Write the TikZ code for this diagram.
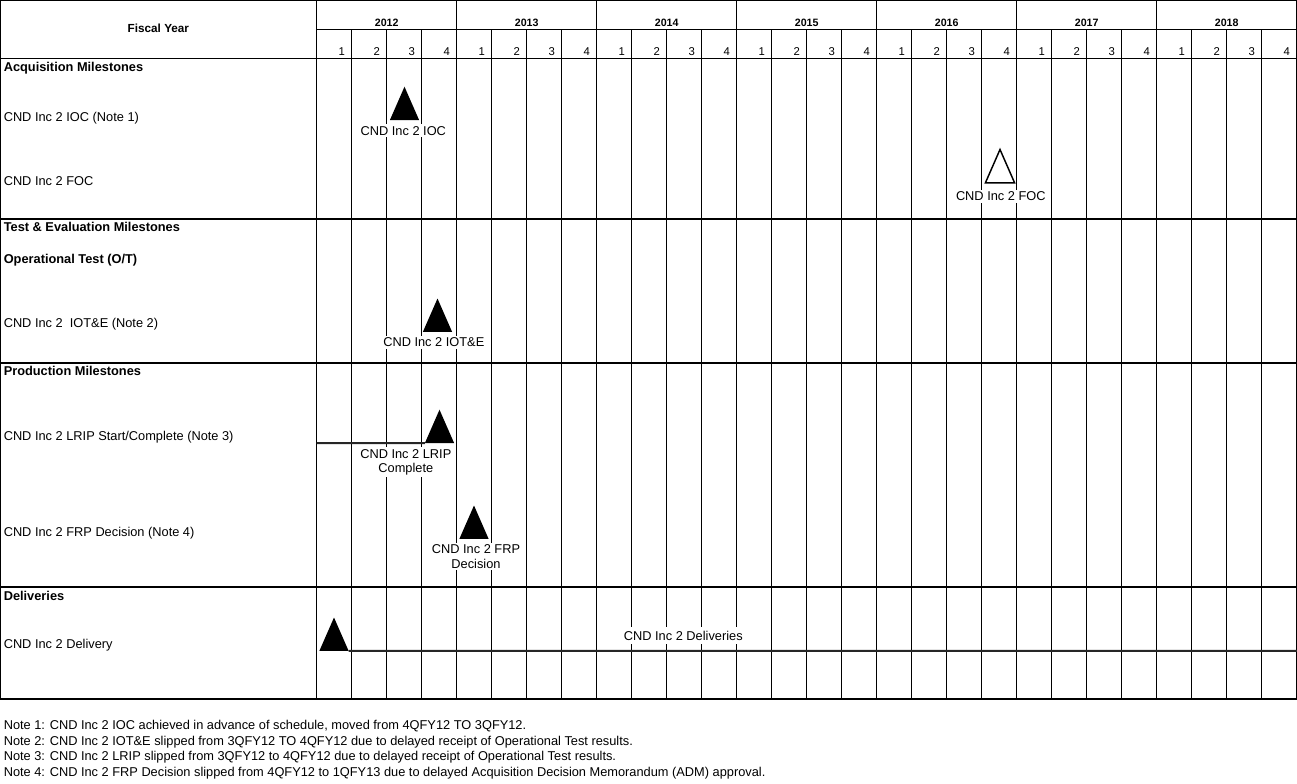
\documentclass[tikz,border=0pt]{standalone}
\usepackage{fontspec}
\setmainfont{Liberation Sans}
\usetikzlibrary{shapes.geometric}

\begin{document}
\begin{tikzpicture}[
  x=0.75pt,
  y=-0.75pt,
  every node/.style={font=\fontsize{9.6}{10.8}\selectfont, inner sep=0pt},
  rowlbl/.style={anchor=base west},
  sechead/.style={rowlbl, font=\bfseries\fontsize{9.6}{10.8}\selectfont},
  yearlbl/.style={anchor=base, font=\bfseries\fontsize{8}{9}\selectfont},
  qtrlbl/.style={anchor=base east, font=\fontsize{8.5}{9}\selectfont},
  done/.style={
    isosceles triangle,
    isosceles triangle stretches,
    rotate=90,
    minimum width=21.9pt,
    minimum height=25pt,
    outer sep=0pt,
    fill=black,
    anchor=apex
  },
  planned/.style={done, fill=white, draw=black, line width=1.1pt},
  mslabel/.style={fill=white, inner xsep=3pt, inner ysep=1.5pt, align=center, anchor=base},
  gridline/.style={line width=0.75pt},
  rule/.style={line width=1.5pt},
  bar/.style={line width=1.5pt, black!85}
]
\useasboundingbox (0,0) rectangle (1297,783);

% grid
\foreach \k in {0,...,6} {
  \draw[gridline] ({316.7+140*\k},0) -- ({316.7+140*\k},699);
  \foreach \j in {1,2,3}
    \draw[gridline] ({316.7+140*\k+35*\j},29) -- ({316.7+140*\k+35*\j},699);
}
\draw[gridline] (316.7,29) -- (1297,29);
\draw[gridline] (0,58.3) -- (1297,58.3);
\draw[gridline] (0.5,0.5) rectangle (1296.5,699);
\draw[rule] (0,218.5) -- (1297,218.5);
\draw[rule] (0,362.7) -- (1297,362.7);
\draw[rule] (0,586.7) -- (1297,586.7);
\draw[rule] (0,699) -- (1297,699);

% header
\node[font=\bfseries\fontsize{8.8}{10}\selectfont, anchor=base] (fy) at (158.4,32.7) {Fiscal Year};
\foreach \yr [count=\k from 0] in {2012,...,2018}
  \node[yearlbl] (yr\yr) at ({386.7+140*\k},26.7) {\yr};
\foreach \k in {0,...,6}
  \foreach \j in {1,...,4}
    \node[qtrlbl] (q\k\j) at ({316.7+140*\k+35*\j-6.5},55) {\j};

% row titles
\node[sechead] (acq) at (3.5,71.7) {Acquisition Milestones};
\node[rowlbl] (iocrow) at (3.5,121) {CND Inc 2 IOC (Note 1)};
\node[rowlbl] (focrow) at (3.5,185) {CND Inc 2 FOC};
\node[sechead] (tande) at (3.5,231.7) {Test \& Evaluation Milestones};
\node[sechead] (optest) at (3.5,263.5) {Operational Test (O/T)};
\node[rowlbl] (iotrow) at (3.5,327.7) {CND Inc 2~ IOT\&E (Note 2)};
\node[sechead] (prod) at (3.5,375.7) {Production Milestones};
\node[rowlbl] (lriprow) at (3.5,440.7) {CND Inc 2 LRIP Start/Complete (Note 3)};
\node[rowlbl] (frprow) at (3.5,536.7) {CND Inc 2 FRP Decision (Note 4)};
\node[sechead] (deliv) at (3.5,600) {Deliveries};
\node[rowlbl] (delivrow) at (3.5,648.3) {CND Inc 2 Delivery};

% milestones
\node[done] (iocmark) at (404.5,86.7) {};
\node[mslabel] (ioclbl) at (403.3,135.3) {CND Inc 2 IOC};
\node[planned] (focmark) at (1000,149.5) {};
\node[mslabel] (foclbl) at (1000.8,200.7) {CND Inc 2 FOC};
\node[done] (iotmark) at (437.5,298.5) {};
\node[mslabel] (iotlbl) at (433.8,346.7) {CND Inc 2 IOT\&E};
\coordinate (lripstart) at (316.7,443);
\node[done] (lripmark) at (439.5,409.7) {};
\draw[bar] (lripstart) -- (lripmark.left corner);
\node[mslabel] (lriplbl) at (405.8,472.7) {CND Inc 2 LRIP\\Complete};
\node[done] (frpmark) at (474,505.5) {};
\node[mslabel] (frplbl) at (476,568.3) {CND Inc 2 FRP\\Decision};
\node[done] (delivmark) at (334,617.5) {};
\coordinate (delivend) at (1297,650.8);
\draw[bar] (delivmark.right corner) -- (delivend);
\node[mslabel, inner ysep=3pt] (delivlbl) at (683.3,640) {CND Inc 2 Deliveries};

% notes
\node[rowlbl] (note1) at (3.5,729) {Note 1: CND Inc 2 IOC achieved in advance of schedule, moved from 4QFY12 TO 3QFY12.};
\node[rowlbl] (note2) at (3.5,745) {Note 2: CND Inc 2 IOT\&E slipped from 3QFY12 TO 4QFY12 due to delayed receipt of Operational Test results.};
\node[rowlbl] (note3) at (3.5,760.7) {Note 3: CND Inc 2 LRIP slipped from 3QFY12 to 4QFY12 due to delayed receipt of Operational Test results.};
\node[rowlbl] (note4) at (3.5,776.7) {Note 4: CND Inc 2 FRP Decision slipped from 4QFY12 to 1QFY13 due to delayed Acquisition Decision Memorandum (ADM) approval.};
\end{tikzpicture}
\end{document}
